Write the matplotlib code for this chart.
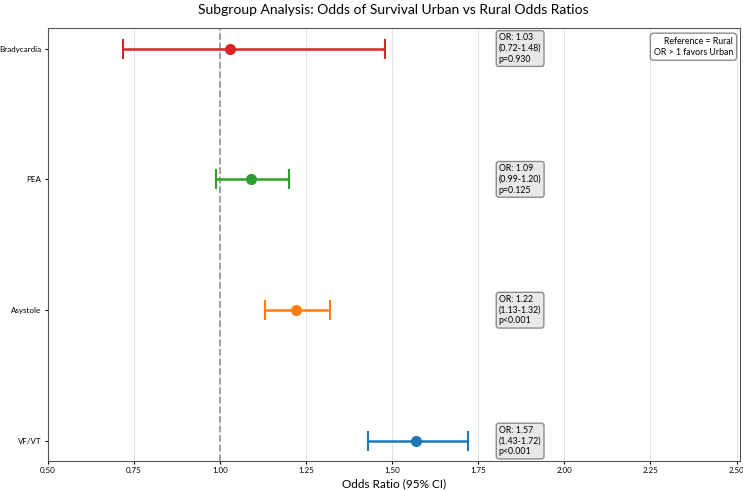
import matplotlib.pyplot as plt

plt.rcParams['font.family'] = ['Lato', 'DejaVu Sans']

subgroups = ['VF/VT', 'Asystole', 'PEA', 'Bradycardia']
odds_ratio = [1.57, 1.22, 1.09, 1.03]
ci_low = [1.43, 1.13, 0.99, 0.72]
ci_high = [1.72, 1.32, 1.20, 1.48]
p_labels = ['p<0.001', 'p<0.001', 'p=0.125', 'p=0.930']
colors = ['#1f77b4', '#ff7f0e', '#2ca02c', '#d62728']

fig, ax = plt.subplots(figsize=(7.43, 4.91), dpi=100)
fig.subplots_adjust(left=0.064, right=0.996, top=0.943, bottom=0.061)

for i in range(len(subgroups)):
    err = [[odds_ratio[i] - ci_low[i]], [ci_high[i] - odds_ratio[i]]]
    ax.errorbar(odds_ratio[i], i, xerr=err, fmt='o', color=colors[i],
                ecolor=colors[i], elinewidth=1.8, capsize=7, capthick=1.5,
                markersize=7, zorder=3)
    txt = 'OR: %.2f\n(%.2f-%.2f)\n%s' % (odds_ratio[i], ci_low[i], ci_high[i], p_labels[i])
    ax.text(1.81, i, txt, va='center', ha='left', fontsize=6.3, linespacing=1.25,
            bbox=dict(boxstyle='round,pad=0.3', facecolor='#e6e6e6', edgecolor='gray', alpha=0.9))

ax.axvline(1.0, color='#999999', linestyle='--', linewidth=1.3, zorder=1)
ax.set_yticks(range(len(subgroups)))
ax.set_yticklabels(subgroups)
ax.set_xlim(0.5, 2.51)
ax.set_ylim(-0.153, 3.157)
ax.set_xticks([0.5, 0.75, 1.0, 1.25, 1.5, 1.75, 2.0, 2.25, 2.5])
ax.tick_params(labelsize=5.8, length=2.5, pad=2)
ax.grid(axis='x', color='#e3e3e3', linewidth=0.7)
ax.set_axisbelow(True)
for s in ax.spines.values():
    s.set_color('#555555')
ax.set_xlabel('Odds Ratio (95% CI)', fontsize=8.5, labelpad=3)
ax.set_title('Subgroup Analysis: Odds of Survival Urban vs Rural Odds Ratios', fontsize=10, pad=10)

ax.text(0.99, 0.98, 'Reference = Rural\nOR > 1 favors Urban', transform=ax.transAxes,
        ha='right', va='top', fontsize=6.3, multialignment='right', linespacing=1.3,
        bbox=dict(boxstyle='round,pad=0.4', facecolor='white', edgecolor='gray', alpha=0.9))

plt.savefig('out.png', dpi=100)
